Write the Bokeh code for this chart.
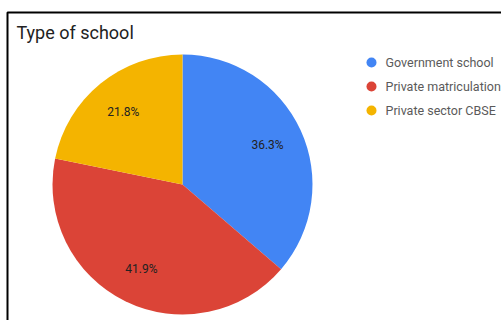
import math
from bokeh.plotting import figure
from bokeh.models import Range1d, ColumnDataSource
from bokeh.core.properties import value
from bokeh.embed import file_html
from bokeh.resources import INLINE

title = "Type of school"
categories = ["Government school", "Private matriculation", "Private sector CBSE"]
shares = [36.3, 41.9, 21.8]
colors = ["#4285F4", "#DB4437", "#F4B400"]

W, H = 501, 320
p = figure(width=W, height=H, output_backend="svg", toolbar_location=None,
           x_range=Range1d(0, W), y_range=Range1d(0, H), min_border=0,
           background_fill_color="white", border_fill_color="white")
p.axis.visible = False
p.grid.visible = False
p.outline_line_color = None

def Y(py):
    return H - py

# frame border
p.line(x=[7, 7, W], y=[Y(H), Y(12), Y(12)], line_color="#000000", line_width=2)

cx, cy, r = 182, Y(184), 130
total = sum(shares)
starts, ends, lx, ly, labels = [], [], [], [], []
cum = 0.0
for s in shares:
    a0 = math.pi / 2 - 2 * math.pi * cum / total
    cum += s
    a1 = math.pi / 2 - 2 * math.pi * cum / total
    starts.append(a0)
    ends.append(a1)
    mid = (a0 + a1) / 2
    lx.append(cx + 0.72 * r * math.cos(mid))
    ly.append(cy + 0.72 * r * math.sin(mid))
    labels.append(f"{s:.1f}%")

src = ColumnDataSource(dict(start=starts, end=ends, color=colors, cat=categories))
p.wedge(x=cx, y=cy, radius=r, start_angle="start", end_angle="end",
        direction="clock", fill_color="color", line_color=None, source=src)

p.text(x=lx, y=ly, text=labels, text_align="center", text_baseline="middle",
       text_font=value("Roboto"), text_font_size=value("12px"), text_color="#222222")

# title
p.text(x=[16], y=[Y(32)], text=[title], text_align="left", text_baseline="middle",
       text_font=value("Roboto"), text_font_size=value("18px"), text_color="#222222")

# legend
ly0 = [Y(62 + 24 * i) for i in range(len(categories))]
p.scatter(x=[371] * len(categories), y=ly0, size=10, marker="circle",
          fill_color=colors, line_color=None)
p.text(x=[385] * len(categories), y=ly0, text=categories, text_align="left",
       text_baseline="middle", text_font=value("Roboto"), text_font_size=value("12.5px"),
       text_color="#5a5a5a")

open("out.html", "w").write(file_html(p, INLINE))
